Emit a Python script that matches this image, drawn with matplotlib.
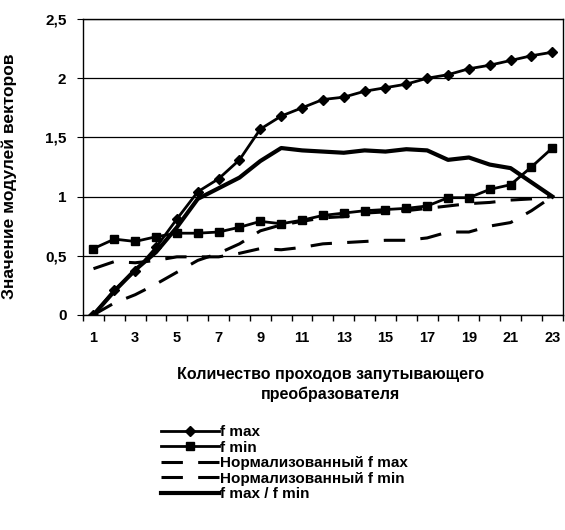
import numpy as np
import matplotlib
matplotlib.use('Agg')
import matplotlib.pyplot as plt
from matplotlib.ticker import FixedLocator, FuncFormatter

plt.rcParams['font.family'] = ['Liberation Sans', 'DejaVu Sans']
plt.rcParams['font.weight'] = 'bold'
plt.rcParams['axes.labelweight'] = 'bold'

passes = np.arange(1, 24)
f_max = [0.0, 0.21, 0.37, 0.57, 0.81, 1.04, 1.15, 1.31, 1.57, 1.68, 1.75, 1.82, 1.84, 1.89, 1.92, 1.95, 2.0, 2.03, 2.08, 2.11, 2.15, 2.19, 2.22]
f_min = [0.56, 0.64, 0.62, 0.66, 0.69, 0.69, 0.70, 0.74, 0.79, 0.77, 0.80, 0.84, 0.86, 0.88, 0.89, 0.90, 0.92, 0.99, 0.99, 1.06, 1.10, 1.25, 1.41]
norm_f_max = [0.0, 0.10, 0.17, 0.26, 0.36, 0.46, 0.52, 0.60, 0.71, 0.76, 0.79, 0.82, 0.83, 0.86, 0.87, 0.88, 0.90, 0.92, 0.94, 0.95, 0.97, 0.98, 1.0]
norm_f_min = [0.39, 0.45, 0.44, 0.46, 0.49, 0.49, 0.49, 0.52, 0.56, 0.55, 0.57, 0.60, 0.61, 0.62, 0.63, 0.63, 0.65, 0.70, 0.70, 0.75, 0.78, 0.88, 1.0]
ratio = [0.0, 0.20, 0.38, 0.53, 0.74, 0.98, 1.07, 1.16, 1.30, 1.41, 1.39, 1.38, 1.37, 1.39, 1.38, 1.40, 1.39, 1.31, 1.33, 1.27, 1.24, 1.12, 1.0]

labels = ['f max', 'f min', 'Нормализованный f max', 'Нормализованный f min', 'f max / f min']

fig = plt.figure(figsize=(5.65, 5.3), dpi=100)
ax = fig.add_axes([0.147, 0.406, 0.849, 0.558])

ax.plot(passes, f_max, color='black', lw=2, marker='D', ms=5, label=labels[0])
ax.plot(passes, f_min, color='black', lw=2, marker='s', ms=5.5, label=labels[1])
ax.plot(passes, norm_f_max, color='black', lw=2.2, dashes=(7, 5), label=labels[2])
ax.plot(passes, norm_f_min, color='black', lw=2.2, dashes=(7, 5), label=labels[3])
ax.plot(passes, ratio, color='black', lw=3, label=labels[4])

ax.set_xlim(0.5, 23.5)
ax.set_ylim(0, 2.5)
ax.set_yticks([0, 0.5, 1, 1.5, 2, 2.5])
ax.yaxis.set_major_formatter(FuncFormatter(lambda v, p: ('%g' % v).replace('.', ',')))
ax.set_xticks(passes)
ax.set_xticklabels([str(i) if i % 2 else '' for i in passes])
ax.xaxis.set_minor_locator(FixedLocator(np.arange(0.5, 24, 1)))
ax.tick_params(axis='x', which='major', length=0, pad=12, labelsize=10.5)
ax.tick_params(axis='x', which='minor', length=4, width=1, direction='out')
ax.tick_params(axis='y', length=4, labelsize=11, pad=8)
ax.grid(axis='y', color='black', lw=0.9)
for s in ax.spines.values():
    s.set_linewidth(1)

ax.set_ylabel('Значение модулей векторов', fontsize=12.5)
ax.yaxis.set_label_coords(-0.137, 0.47)
ax.set_xlabel('Количество проходов запутывающего\nпреобразователя', fontsize=11.5, linespacing=1.4)
ax.xaxis.set_label_coords(0.515, -0.175)

fig.legend(loc='upper left', bbox_to_anchor=(155 / 565, 1 - 419 / 530), frameon=False,
           handlelength=3.8, handletextpad=0.05, labelspacing=0.1, fontsize=11, borderaxespad=0)

fig.savefig('out.png', dpi=100)
